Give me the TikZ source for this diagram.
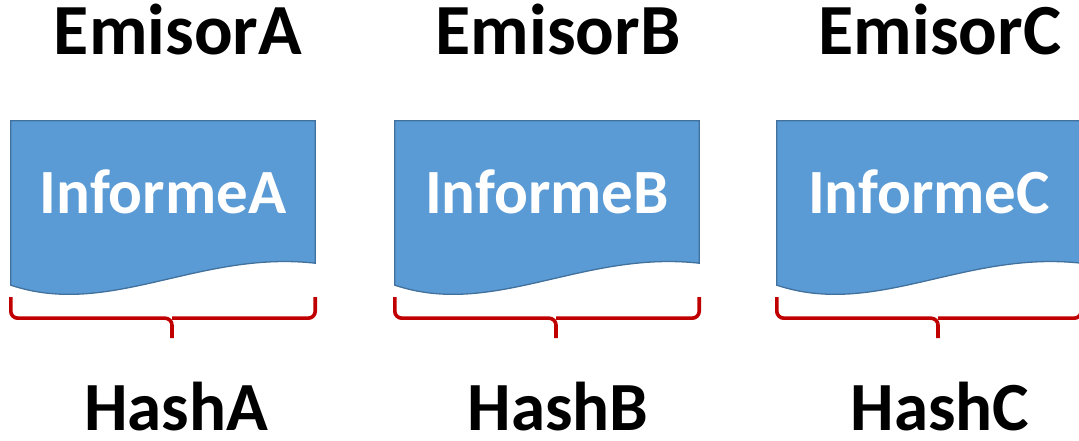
\documentclass[tikz,border=0pt]{standalone}
\usepackage{fontspec}
\setmainfont{Carlito}
\usepackage{tikz}
\usetikzlibrary{positioning, calc}

\definecolor{docblue}{HTML}{5B9BD5}
\definecolor{docedge}{HTML}{41719C}
\definecolor{bracered}{HTML}{C00000}

\begin{document}
\begin{tikzpicture}[
    x=1pt, y=1pt,
    title/.style={anchor=base, inner sep=0pt, font=\fontsize{72}{76}\selectfont\bfseries},
    hash/.style={anchor=base, inner sep=0pt, font=\fontsize{69}{72}\selectfont\bfseries},
    doc/.style={rectangle, minimum width=304pt, minimum height=142pt, inner sep=0pt, text=white, font=\fontsize{63}{66}\selectfont\bfseries},
    docline/.style={draw=docedge, line width=1.3pt, fill=docblue},
    brace/.style={draw=bracered, line width=3.6pt, rounded corners=7pt}
]
\useasboundingbox (0,0) rectangle (1079,441);

% Documents
\node (infA) [doc] at (163,249) {};
\node (infB) [doc] at (547,249) {};
\node (infC) [doc] at (929,249) {};

\foreach \d in {infA,infB,infC}{
  \draw [docline] (\d.north west) -- (\d.north east) -- (\d.south east)
    .. controls ($(\d.south west)+(188,13)$) and ($(\d.south west)+(99,-55)$) .. ($(\d.south west)+(0,-22)$) -- cycle;
}

\node at (infA) [doc] {InformeA};
\node at (infB) [doc] {InformeB};
\node at (infC) [doc] {InformeC};

% Titles
\node (emA) [title] at (178,386) {EmisorA};
\node (emB) [title] at (558,386) {EmisorB};
\node (emC) [title] at (940,386) {EmisorC};

% Braces
\coordinate (tipA) at ($(infA.south)+(9,-75)$);
\coordinate (tipB) at ($(infB.south)+(9,-75)$);
\coordinate (tipC) at ($(infC.south)+(9,-75)$);
\draw [brace] ($(infA.south west)+(0,-34)$) |- ($(tipA)+(0,20)$) -- (tipA);
\draw [brace] ($(infA.south east)+(0,-34)$) |- ($(tipA)+(0,20)$);
\draw [brace] ($(infB.south west)+(0,-34)$) |- ($(tipB)+(0,20)$) -- (tipB);
\draw [brace] ($(infB.south east)+(0,-34)$) |- ($(tipB)+(0,20)$);
\draw [brace] ($(infC.south west)+(0,-34)$) |- ($(tipC)+(0,20)$) -- (tipC);
\draw [brace] ($(infC.south east)+(0,-34)$) |- ($(tipC)+(0,20)$);

% Hashes
\node (hashA) [hash] at (176,10) {HashA};
\node (hashB) [hash] at (558,10) {HashB};
\node (hashC) [hash] at (940,10) {HashC};

\end{tikzpicture}
\end{document}
